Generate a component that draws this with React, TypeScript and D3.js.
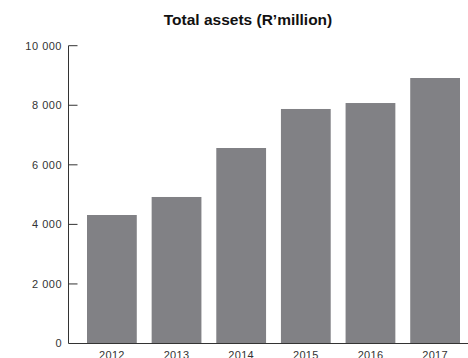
import React from "react";
import * as d3 from "d3";

const years = ["2012", "2013", "2014", "2015", "2016", "2017"];
const totalAssets = [4315, 4920, 6565, 7875, 8075, 8915];
const yTicks = [0, 2000, 4000, 6000, 8000, 10000];

const W = 468;
const H = 358;

export default function App() {
  const y = d3.scaleLinear().domain([0, 10000]).range([343.5, 45.7]);
  const x = d3.scaleBand<string>().domain(years).range([87, 460]).paddingInner(0.23).paddingOuter(0);
  const axisX = 68.5;
  const fmt = (v: number) => d3.format(",")(v).replace(/,/g, " ");
  const font = "'Liberation Sans', Arial, Helvetica, sans-serif";

  return (
    <svg width={W} height={H} style={{ position: "absolute", left: 0, top: 0, background: "#fff" }} fontFamily={font}>
      <text x={248} y={25} textAnchor="middle" fontSize={15.5} fontWeight="bold" fill="#111">
        Total assets (R’million)
      </text>
      {years.map((yr, i) => (
        <rect key={yr} x={x(yr)} y={y(totalAssets[i])} width={x.bandwidth()} height={y(0) - y(totalAssets[i])} fill="#818185" />
      ))}
      <line x1={axisX} x2={axisX} y1={y(10000)} y2={y(0)} stroke="#333" strokeWidth={1} />
      <line x1={axisX} x2={W} y1={y(0)} y2={y(0)} stroke="#333" strokeWidth={1} />
      {yTicks.map((t) => (
        <g key={t}>
          {t > 0 && <line x1={axisX} x2={axisX + 9} y1={y(t)} y2={y(t)} stroke="#333" strokeWidth={1} />}
          <text x={62} y={y(t)} dy="0.35em" textAnchor="end" fontSize={11} letterSpacing={0.5} fill="#333">
            {fmt(t)}
          </text>
        </g>
      ))}
      {years.map((yr) => (
        <text key={yr} x={(x(yr) as number) + x.bandwidth() / 2} y={359} textAnchor="middle" fontSize={11} letterSpacing={0.3} fill="#333">
          {yr}
        </text>
      ))}
    </svg>
  );
}
